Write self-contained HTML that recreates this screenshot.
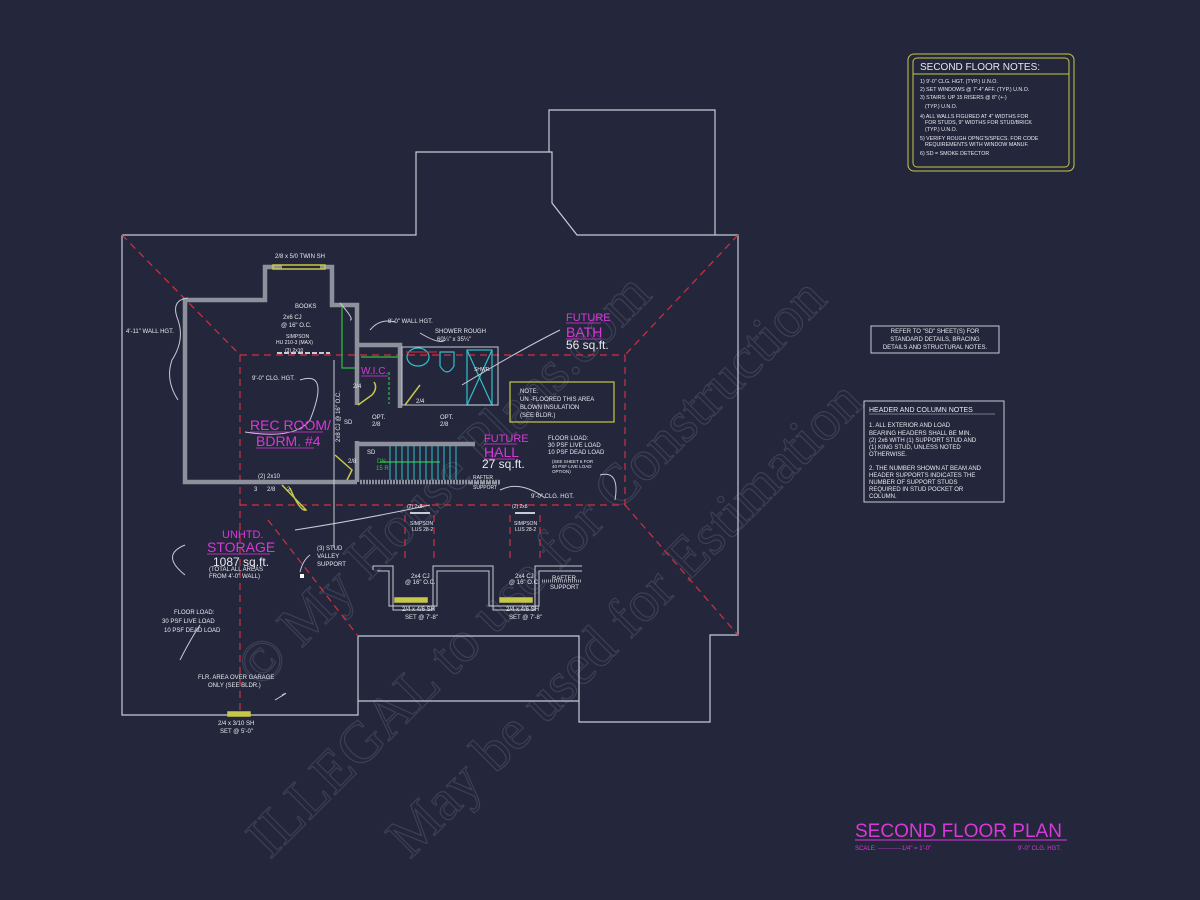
<!DOCTYPE html>
<html><head><meta charset="utf-8"><style>
html,body{margin:0;padding:0;background:#24273b;}
svg{display:block}
text{font-family:"Liberation Sans",sans-serif;fill:#e8e8ee}
text.m{fill:#d838d8}
text.g{fill:#30c040}
</style></head><body>
<svg width="1200" height="900" viewBox="0 0 1200 900" xmlns="http://www.w3.org/2000/svg">
<rect width="1200" height="900" fill="#24273b"/>
<g>
<text transform="translate(260,690) rotate(-45)" style="fill:none;stroke:#3d4055;stroke-width:1.2;font-family:'Liberation Serif',serif;font-size:58px">© My House Plans.com</text>
<text transform="translate(270,860) rotate(-45)" style="fill:none;stroke:#3d4055;stroke-width:1.2;font-family:'Liberation Serif',serif;font-size:58px">ILLEGAL to use for Construction</text>
<text transform="translate(410,860) rotate(-45)" style="fill:none;stroke:#3d4055;stroke-width:1.2;font-family:'Liberation Serif',serif;font-size:58px">May be used for Estimation</text>
</g>
<g fill="none" stroke="#c8cad6" stroke-width="1.2">
<polyline points="122,235 416,235 416,152 552,152 552,203 577,235 738,235 738,635 710,635 710,722 579,722 579,636 358,636 358,715 122,715 122,235"/>
<polyline points="549,152 549,110 715,110 715,235"/>
<line x1="358" y1="701" x2="579" y2="701"/>
</g>
<g fill="none" stroke="#d03040" stroke-width="1.2" stroke-dasharray="7,5">
<line x1="122" y1="235" x2="240" y2="355"/>
<line x1="738" y1="235" x2="625" y2="355"/>
<line x1="240" y1="355" x2="625" y2="355"/>
<line x1="240" y1="355" x2="240" y2="712"/>
<line x1="625" y1="355" x2="625" y2="505"/>
<line x1="240" y1="505" x2="625" y2="505"/>
<line x1="268" y1="520" x2="358" y2="636"/>
<line x1="625" y1="505" x2="738" y2="635"/>
<line x1="405" y1="515" x2="405" y2="560"/>
<line x1="434" y1="515" x2="434" y2="560"/>
<line x1="510" y1="515" x2="510" y2="560"/>
<line x1="540" y1="515" x2="540" y2="560"/>
</g>
<g fill="none" stroke="#8e909c" stroke-width="4.5">
<polyline points="282,267 265,267 265,300 185,300 185,482 357,482"/>
<polyline points="320,267 332,267 332,305 357,305 357,405"/>
<polyline points="357,345 400,345 400,408"/>
<polyline points="357,441 357,482"/>
<line x1="357" y1="444" x2="475" y2="444"/>
<line x1="360" y1="482" x2="500" y2="482" stroke-dasharray="2,1"/>
</g>
<g fill="none" stroke="#c8c848" stroke-width="1.5">
<rect x="273" y="265" width="52" height="4"/>
<path d="M358 405 L372 395 Q378 388 374 382"/>
<path d="M405 405 L420 385"/>
<path d="M335 455 L352 470 L347 480"/>
<path d="M282 485 L306 510 Q300 512 290 488"/>
<rect x="395" y="598" width="32" height="4" fill="#c8c848"/>
<rect x="500" y="598" width="32" height="4" fill="#c8c848"/>
<rect x="228" y="712" width="22" height="4" fill="#c8c848"/>
<rect x="510" y="382" width="104" height="40" stroke-width="1.2"/>
</g>
<g fill="none" stroke="#30c040" stroke-width="1.2">
<polyline points="342,305 342,368 355,368"/>
<line x1="361" y1="357" x2="400" y2="357"/>
<line x1="389" y1="372" x2="389" y2="404" stroke-dasharray="3,2"/>
<line x1="380" y1="462" x2="440" y2="462"/>
</g>
<g fill="none" stroke="#30c0c8" stroke-width="1.2">
<ellipse cx="418" cy="357" rx="11" ry="9"/>
<path d="M440 352 h14 v14 q-7 12 -14 0 z"/>
<rect x="467" y="350" width="25" height="55"/>
<line x1="467" y1="350" x2="492" y2="405"/><line x1="492" y1="350" x2="467" y2="405"/>
<g stroke-width="1">
<line x1="390" y1="446" x2="390" y2="480"/><line x1="396" y1="446" x2="396" y2="480"/><line x1="402" y1="446" x2="402" y2="480"/><line x1="408" y1="446" x2="408" y2="480"/><line x1="414" y1="446" x2="414" y2="480"/><line x1="420" y1="446" x2="420" y2="480"/><line x1="426" y1="446" x2="426" y2="480"/><line x1="432" y1="446" x2="432" y2="480"/><line x1="438" y1="446" x2="438" y2="480"/><line x1="444" y1="446" x2="444" y2="480"/><line x1="450" y1="446" x2="450" y2="480"/><line x1="456" y1="446" x2="456" y2="480"/>
</g>
</g>
<g fill="none" stroke="#c8cad6" stroke-width="1">
<rect x="402" y="347" width="96" height="58"/>
<line x1="406" y1="352" x2="437" y2="352" stroke="#d03040"/>
<line x1="334" y1="360" x2="334" y2="548"/>
<polyline points="373,570 373,566 393,566 393,610 433,610 433,566 493,566 493,610 535,610 535,566 582,566"/>
<polyline points="378,570 378,571 389,571 389,606 437,606 437,571 489,571 489,606 539,606 539,571 582,571"/>
<line x1="277" y1="353" x2="330" y2="353" stroke-dasharray="5,2" stroke-width="2"/>
<line x1="410" y1="513" x2="430" y2="513" stroke-width="2"/>
<line x1="515" y1="513" x2="535" y2="513" stroke-width="2"/>
<path d="M188 298 Q170 300 178 320 Q185 340 172 360 Q165 380 178 400"/>
<path d="M300 380 Q330 370 310 420 Q295 440 245 432" />
<path d="M340 303 Q355 320 350 320"/>
<path d="M370 330 Q380 318 395 322"/>
<path d="M420 333 Q440 345 445 340"/>
<path d="M560 330 Q520 350 462 385"/>
<path d="M500 490 Q520 480 545 498"/>
<path d="M295 530 Q360 520 430 505"/>
<path d="M185 545 Q160 555 185 575"/>
<path d="M180 660 Q190 640 200 625"/>
<path d="M282 695 Q292 690 275 700"/>
<path d="M615 500 Q620 470 600 475"/>
<path d="M300 572 Q303 560 310 555"/>
</g>
<rect x="300" y="574" width="4" height="4" fill="#fff"/>
<g fill="none" stroke="#9a9ca8" stroke-width="3" stroke-dasharray="1,1">
<line x1="470" y1="483" x2="500" y2="483"/>
<line x1="542" y1="581" x2="582" y2="581"/>
</g>
<g font-size="6">
<text x="275" y="258">2/8 x 5/0 TWIN SH</text>
<text x="295" y="308">BOOKS</text>
<text x="283" y="319">2x6 CJ</text><text x="281" y="327">@ 16" O.C.</text>
<text x="286" y="338" font-size="5">SIMPSON</text><text x="276" y="344" font-size="5">HU 210-3 (MAX)</text>
<text x="285" y="352" font-size="5">(3) 2x10</text>
<text x="252" y="380">9'-0" CLG. HGT.</text>
<text x="126" y="333">4'-11" WALL HGT.</text>
<text x="388" y="323">8'-0" WALL HGT.</text>
<text x="435" y="333">SHOWER ROUGH</text><text x="437" y="341">60¼" x 35¼"</text>
<text x="474" y="371" font-size="5">SHWR.</text>
<text x="353" y="388">2/4</text><text x="416" y="403">2/4</text>
<text x="372" y="419">OPT.</text><text x="372" y="426">2/8</text>
<text x="440" y="419">OPT.</text><text x="440" y="426">2/8</text>
<text x="344" y="424">SD</text><text x="367" y="454">SD</text>
<text x="348" y="463">2/8</text>
<text x="520" y="393">NOTE:</text>
<text x="520" y="401">UN -FLOORED THIS AREA</text>
<text x="520" y="409">BLOWN INSULATION</text>
<text x="520" y="417">(SEE BLDR.)</text>
<text x="548" y="440">FLOOR LOAD:</text>
<text x="548" y="447">30 PSF LIVE LOAD</text>
<text x="548" y="454">10 PSF DEAD LOAD</text>
<text x="552" y="463" font-size="4.5">(SEE SHEET 6 FOR</text>
<text x="552" y="468" font-size="4.5">40 PSF LIVE LOAD</text>
<text x="552" y="473" font-size="4.5">OPTION)</text>
<text x="473" y="479" font-size="5">RAFTER</text><text x="473" y="489" font-size="5">SUPPORT</text>
<text x="531" y="498">9'-0" CLG. HGT.</text>
<text x="258" y="478">(2) 2x10</text>
<text x="254" y="491">3</text><text x="267" y="491">2/8</text><text x="287" y="491">2</text>
<text x="407" y="508" font-size="5">(2) 2x8</text><text x="512" y="508" font-size="5">(2) 2x8</text>
<text x="410" y="525" font-size="5">SIMPSON</text><text x="412" y="531" font-size="5">LUS 28-2</text>
<text x="514" y="525" font-size="5">SIMPSON</text><text x="515" y="531" font-size="5">LUS 28-2</text>
<text x="317" y="550">(3) STUD</text><text x="317" y="558">VALLEY</text><text x="317" y="566">SUPPORT</text>
<text x="411" y="578">2x4 CJ</text><text x="405" y="584">@ 16" O.C.</text>
<text x="515" y="578">2x4 CJ</text><text x="509" y="584">@ 16" O.C.</text>
<text x="552" y="580">RAFTER</text><text x="550" y="589">SUPPORT</text>
<text x="402" y="611">2/4 x 4/6 SH</text><text x="405" y="619">SET @ 7'-8"</text>
<text x="506" y="611">2/4 x 4/6 SH</text><text x="509" y="619">SET @ 7'-8"</text>
<text x="209" y="571">(TOTAL ALL AREAS</text><text x="209" y="578">FROM 4'-0" WALL)</text>
<text x="174" y="614">FLOOR LOAD:</text>
<text x="162" y="623">30 PSF LIVE LOAD</text>
<text x="164" y="632">10 PSF DEAD LOAD</text>
<text x="198" y="679">FLR. AREA OVER GARAGE</text>
<text x="208" y="687">ONLY (SEE BLDR.)</text>
<text x="218" y="725">2/4 x 3/10 SH</text><text x="220" y="733">SET @ 5'-0"</text>
<text x="340" y="442" transform="rotate(-90 340 442)">2x8 CJ @ 16" O.C.</text>
</g>
<text x="377" y="463" font-size="6" class="g">DN</text><text x="376" y="470" font-size="6" class="g">15 R</text>
<text class="m" x="250" y="430" font-size="14">REC ROOM/</text>
<text class="m" x="256" y="446" font-size="14">BDRM. #4</text>
<text class="m" x="566" y="321" font-size="11">FUTURE</text>
<text class="m" x="566" y="337" font-size="14">BATH</text>
<text class="m" x="484" y="442" font-size="11">FUTURE</text>
<text class="m" x="484" y="457" font-size="14">HALL</text>
<text class="m" x="222" y="538" font-size="11">UNHTD.</text>
<text class="m" x="207" y="552" font-size="14">STORAGE</text>
<text class="m" x="361" y="374" font-size="10">W.I.C.</text>
<g font-size="12">
<text x="566" y="349">56 sq.ft.</text>
<text x="482" y="468">27 sq.ft.</text>
<text x="213" y="566">1087 sq.ft.</text>
</g>
<g fill="none" stroke="#d838d8" stroke-width="0.8">
<line x1="250" y1="432" x2="323" y2="432"/><line x1="256" y1="448" x2="314" y2="448"/>
<line x1="207" y1="554" x2="270" y2="554"/>
<line x1="566" y1="323" x2="601" y2="323"/><line x1="566" y1="339" x2="601" y2="339"/>
<line x1="484" y1="444" x2="517" y2="444"/><line x1="484" y1="459" x2="515" y2="459"/>
<line x1="361" y1="376" x2="388" y2="376"/>
</g>
<g fill="none" stroke="#c8c848" stroke-width="1">
<rect x="908" y="54" width="166" height="117" rx="6"/>
<rect x="913" y="58" width="156" height="109" rx="4"/>
<line x1="913" y1="74" x2="1069" y2="74"/>
</g>
<g font-size="5.3">
<text x="920" y="70" font-size="10">SECOND FLOOR NOTES:</text>
<text x="920" y="83">1) 9'-0" CLG. HGT. (TYP.) U.N.O.</text>
<text x="920" y="91">2) SET WINDOWS @ 7'-4" AFF. (TYP.) U.N.O.</text>
<text x="920" y="99">3) STAIRS: UP 15 RISERS @ 8" (+-)</text>
<text x="925" y="108">(TYP.) U.N.O.</text>
<text x="920" y="118">4) ALL WALLS FIGURED AT 4" WIDTHS FOR</text>
<text x="925" y="124">FOR STUDS, 9" WIDTHS FOR STUD/BRICK</text>
<text x="925" y="131">(TYP.) U.N.O.</text>
<text x="920" y="140">5) VERIFY ROUGH OPNG'S/SPECS. FOR CODE</text>
<text x="925" y="146">REQUIREMENTS WITH WINDOW MANUF.</text>
<text x="920" y="155">6) SD = SMOKE DETECTOR</text>
</g>
<g fill="none" stroke="#c8cad6" stroke-width="1">
<rect x="871" y="326" width="128" height="27"/>
<rect x="864" y="401" width="140" height="101"/>
</g>
<g font-size="6">
<text x="935" y="333" text-anchor="middle">REFER TO "SD" SHEET(S) FOR</text>
<text x="935" y="341" text-anchor="middle">STANDARD DETAILS, BRACING</text>
<text x="935" y="349" text-anchor="middle">DETAILS AND STRUCTURAL NOTES.</text>
<text x="869" y="412" font-size="7">HEADER AND COLUMN NOTES</text>
<line x1="869" y1="414" x2="995" y2="414" stroke="#c8cad6" stroke-width="0.6"/>
<text x="869" y="427">1. ALL EXTERIOR AND LOAD</text>
<text x="869" y="435">BEARING HEADERS SHALL BE MIN.</text>
<text x="869" y="442">(2) 2x6 WITH (1) SUPPORT STUD AND</text>
<text x="869" y="449">(1) KING STUD, UNLESS NOTED</text>
<text x="869" y="456">OTHERWISE.</text>
<text x="869" y="470">2. THE NUMBER SHOWN AT BEAM AND</text>
<text x="869" y="477">HEADER SUPPORTS INDICATES THE</text>
<text x="869" y="484">NUMBER OF SUPPORT STUDS</text>
<text x="869" y="491">REQUIRED IN STUD POCKET OR</text>
<text x="869" y="498">COLUMN.</text>
</g>
<text class="m" x="855" y="837" font-size="19">SECOND FLOOR PLAN</text>
<line x1="855" y1="840" x2="1067" y2="840" stroke="#d838d8" stroke-width="1"/>
<text class="m" x="855" y="850" font-size="6">SCALE: ------------1/4" = 1'-0"</text>
<text class="m" x="1018" y="850" font-size="6">9'-0" CLG. HGT.</text>
</svg>
</body></html>
